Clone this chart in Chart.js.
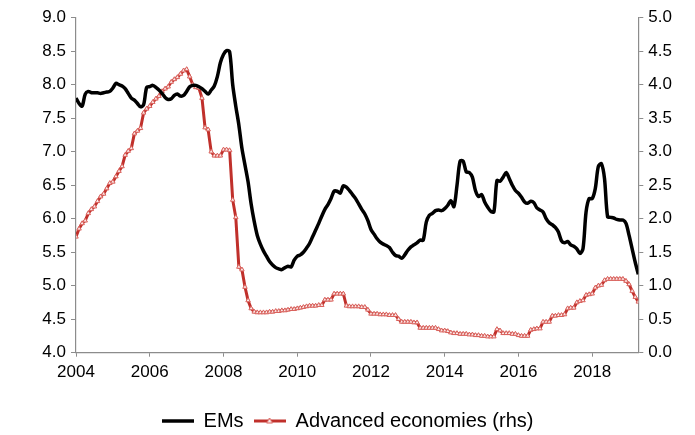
<!DOCTYPE html>
<html>
<head>
<meta charset="utf-8">
<script src="https://cdn.jsdelivr.net/npm/chart.js@4/dist/chart.umd.min.js"></script>
<style>
html,body{margin:0;padding:0;background:#fff;}
#wrap{width:695px;height:435px;}
</style>
</head>
<body>
<div id="wrap"><canvas id="c" width="695" height="435"></canvas></div>
<script>
// Monthly data, Jan 2004 .. Apr 2019
const startYear = 2004;
const yearLabels = ['2004','2006','2008','2010','2012','2014','2016','2018'];
const leftTicks = [4.0,4.5,5.0,5.5,6.0,6.5,7.0,7.5,8.0,8.5,9.0];
const rightTicks = [0.0,0.5,1.0,1.5,2.0,2.5,3.0,3.5,4.0,4.5,5.0];
const seriesNames = ['EMs','Advanced economies (rhs)'];

const emValues = [
7.80,7.72,7.68,7.86,7.90,7.88,7.88,7.88,7.87,7.88,7.89,7.90,
7.95,8.02,8.00,7.98,7.94,7.87,7.80,7.77,7.72,7.67,7.70,7.96,
7.97,7.99,7.96,7.92,7.87,7.81,7.78,7.79,7.84,7.86,7.83,7.84,
7.90,7.97,7.99,7.99,7.97,7.94,7.90,7.86,7.92,7.98,8.12,8.33,
8.45,8.51,8.49,8.00,7.68,7.40,7.05,6.80,6.55,6.22,5.96,5.75,
5.62,5.52,5.44,5.36,5.31,5.27,5.25,5.24,5.27,5.29,5.28,5.38,
5.44,5.46,5.50,5.56,5.63,5.73,5.83,5.93,6.04,6.14,6.21,6.30,
6.41,6.41,6.38,6.49,6.47,6.42,6.36,6.30,6.22,6.14,6.07,5.97,
5.84,5.77,5.70,5.65,5.62,5.60,5.57,5.50,5.45,5.44,5.41,5.46,
5.53,5.58,5.61,5.64,5.68,5.68,5.95,6.05,6.08,6.12,6.13,6.12,
6.15,6.20,6.27,6.18,6.50,6.86,6.86,6.70,6.69,6.62,6.42,6.33,
6.36,6.25,6.17,6.11,6.10,6.57,6.56,6.62,6.69,6.60,6.50,6.42,
6.38,6.32,6.25,6.23,6.26,6.24,6.16,6.13,6.10,6.00,5.94,5.91,
5.87,5.80,5.67,5.64,5.66,5.61,5.59,5.55,5.48,5.55,6.10,6.30,
6.30,6.45,6.78,6.82,6.60,6.03,6.02,6.01,5.99,5.98,5.98,5.93,
5.75,5.55,5.35,5.17
];

const advValues = [
1.73,1.85,1.93,1.97,2.08,2.14,2.18,2.26,2.33,2.37,2.45,2.53,
2.55,2.63,2.71,2.78,2.95,3.01,3.05,3.27,3.31,3.35,3.58,3.64,
3.68,3.74,3.79,3.83,3.90,3.94,3.97,4.04,4.08,4.11,4.16,4.21,
4.23,4.12,4.00,3.96,3.95,3.80,3.36,3.33,3.00,2.94,2.94,2.94,
3.03,3.03,3.02,2.28,2.02,1.28,1.24,0.98,0.78,0.66,0.61,0.60,
0.60,0.60,0.60,0.61,0.61,0.62,0.62,0.63,0.63,0.64,0.65,0.65,
0.66,0.67,0.68,0.69,0.70,0.70,0.70,0.71,0.71,0.79,0.79,0.79,
0.88,0.88,0.88,0.88,0.70,0.69,0.69,0.69,0.69,0.68,0.68,0.64,
0.58,0.58,0.58,0.57,0.57,0.57,0.56,0.56,0.56,0.50,0.46,0.46,
0.46,0.46,0.45,0.45,0.37,0.37,0.37,0.37,0.37,0.37,0.35,0.33,
0.33,0.32,0.30,0.29,0.29,0.28,0.28,0.28,0.27,0.27,0.26,0.26,
0.25,0.25,0.24,0.24,0.24,0.35,0.33,0.29,0.29,0.29,0.28,0.28,
0.26,0.25,0.25,0.25,0.34,0.35,0.36,0.36,0.46,0.46,0.46,0.55,
0.55,0.56,0.56,0.57,0.66,0.67,0.67,0.75,0.77,0.78,0.86,0.87,
0.88,0.97,1.00,1.01,1.08,1.10,1.10,1.10,1.10,1.10,1.10,1.07,
1.02,0.92,0.83,0.76
];

const emPts = emValues.map((v,i)=>({x:i,y:v}));
const advPts = advValues.map((v,i)=>({x:i,y:v}));
const yearTickVals = yearLabels.map(l => (parseInt(l,10)-startYear)*12);

const axisGrey = '#8c8c8c';
const fam = '"Liberation Sans", Arial, sans-serif';
const font = {family:fam, size:17};
const redLine = '#c0302b', redMarkEdge = '#d9605b', redMarkFill = '#fbe9e8';

function legendSwatch(color, width, marker){
  const cv = document.createElement('canvas');
  cv.width = 32; cv.height = 10;
  const g = cv.getContext('2d');
  g.strokeStyle = color; g.lineWidth = width;
  g.beginPath(); g.moveTo(0,5); g.lineTo(32,5); g.stroke();
  if (marker){
    g.fillStyle = redMarkFill; g.strokeStyle = redMarkEdge; g.lineWidth = 1;
    g.beginPath(); g.moveTo(16,2); g.lineTo(19,7); g.lineTo(13,7); g.closePath(); g.fill(); g.stroke();
  }
  return cv;
}

new Chart(document.getElementById('c'), {
  type:'line',
  data:{
    datasets:[
      {label:seriesNames[0], data:emPts, yAxisID:'y', borderColor:'#000', backgroundColor:'#000',
       borderWidth:3.5, pointRadius:0, tension:0.3, order:1},
      {label:seriesNames[1], data:advPts, yAxisID:'y1', borderColor:redLine, backgroundColor:'#fff',
       borderWidth:3, pointRadius:2.6, pointStyle:'triangle', pointBorderColor:redMarkEdge,
       pointBackgroundColor:redMarkFill, pointBorderWidth:1, tension:0, order:2}
    ]
  },
  options:{
    responsive:false, animation:false,
    layout:{padding:{top:17.7,left:0,right:0,bottom:-6}},
    plugins:{
      legend:{position:'bottom',
        labels:{usePointStyle:true, pointStyleWidth:32, boxHeight:3,
          color:'#000', font:{family:fam,size:20}, padding:10,
          generateLabels(chart){
            return chart.data.datasets.map((d,i)=>({text:d.label, fillStyle:d.borderColor, strokeStyle:d.borderColor,
              lineWidth:0, pointStyle:legendSwatch(d.borderColor, d.borderWidth, i===1),
              datasetIndex:i, hidden:false, fontColor:'#000'}));
          }}},
      tooltip:{enabled:false}
    },
    scales:{
      x:{type:'linear', min:0, max:183,
        afterBuildTicks(s){ s.ticks = yearTickVals.map(v=>({value:v})); },
        afterFit(s){ s.height = 48.3; },
        ticks:{color:'#000', font:font, maxRotation:0, padding:5,
          callback:(v)=> String(startYear + Math.round(v/12))},
        grid:{drawOnChartArea:false, color:axisGrey, tickLength:4, tickColor:axisGrey},
        border:{color:axisGrey, width:1.2}
      },
      y:{position:'left', min:4, max:9,
        afterBuildTicks(s){ s.ticks = leftTicks.map(v=>({value:v})); },
        afterFit(s){ s.width = 76; },
        ticks:{color:'#000', font:font, padding:5, callback:(v)=>v.toFixed(1)},
        grid:{drawOnChartArea:false, color:axisGrey, tickLength:5, tickColor:axisGrey},
        border:{color:axisGrey, width:1.2}
      },
      y1:{position:'right', min:0, max:5,
        afterBuildTicks(s){ s.ticks = rightTicks.map(v=>({value:v})); },
        afterFit(s){ s.width = 56.7; },
        ticks:{color:'#000', font:font, padding:5, callback:(v)=>v.toFixed(1)},
        grid:{drawOnChartArea:false, color:axisGrey, tickLength:5, tickColor:axisGrey},
        border:{color:axisGrey, width:1.2}
      }
    }
  }
});
</script>
</body>
</html>
